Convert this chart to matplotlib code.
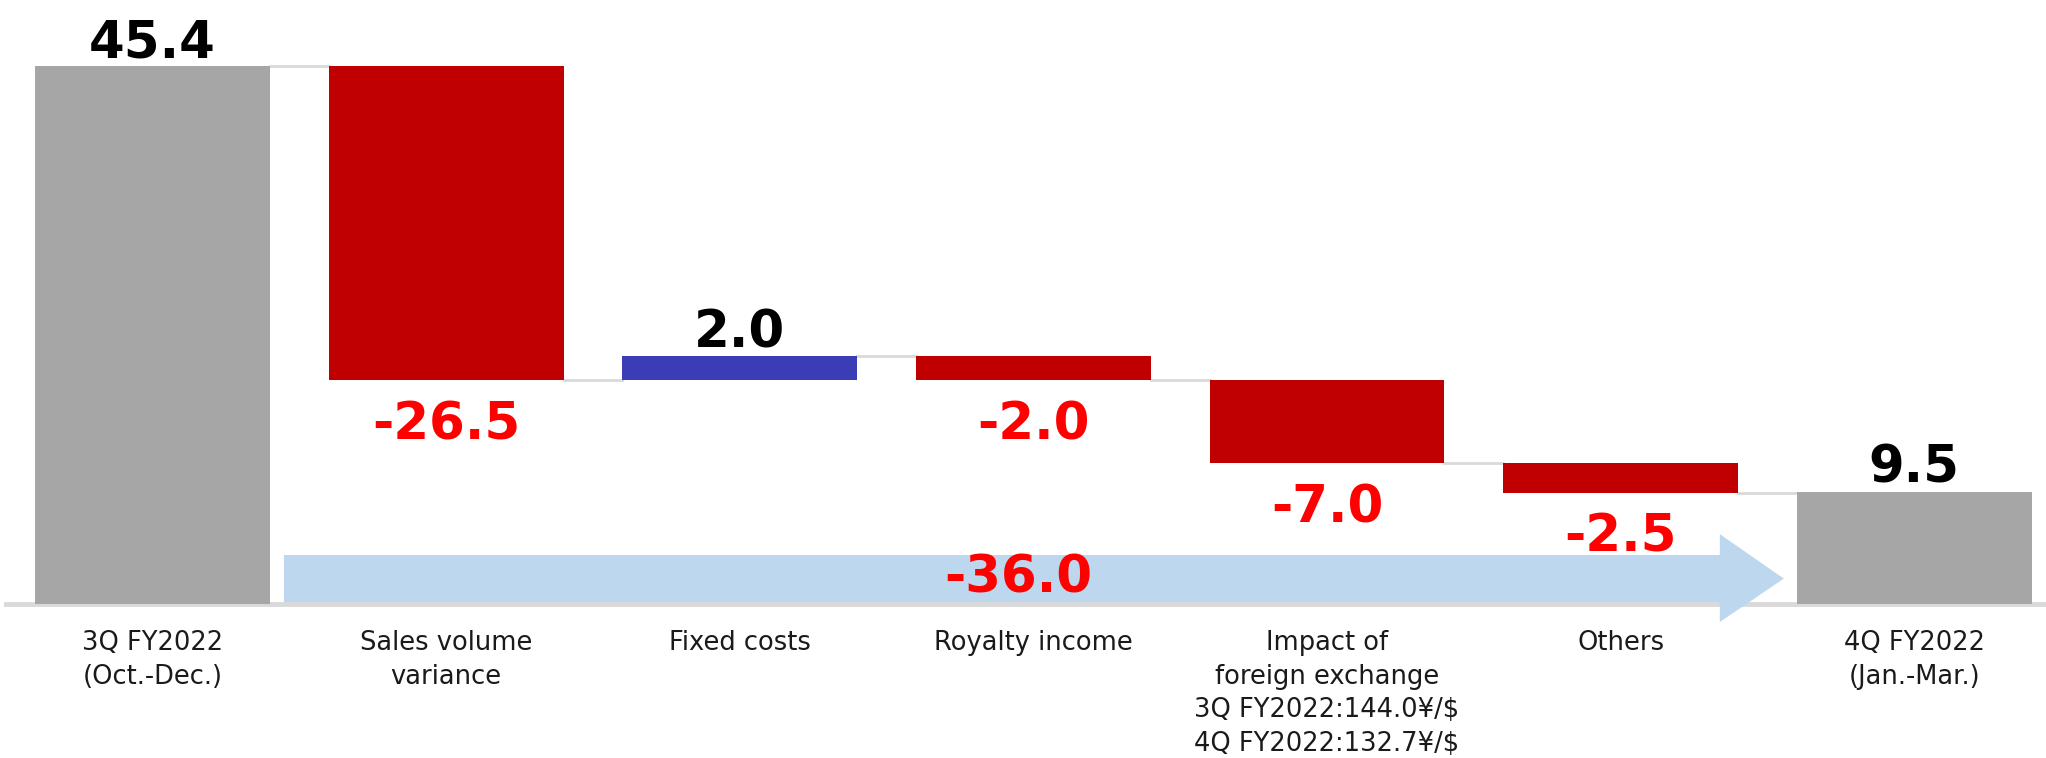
import matplotlib
matplotlib.use("Agg")
import matplotlib.pyplot as plt
from matplotlib.patches import Polygon
import numpy as np

# data
categories = [
    "3Q FY2022\n(Oct.-Dec.)",
    "Sales volume\nvariance",
    "Fixed costs",
    "Royalty income",
    "Impact of\nforeign exchange\n3Q FY2022:144.0\u00a5/$\n4Q FY2022:132.7\u00a5/$",
    "Others",
    "4Q FY2022\n(Jan.-Mar.)",
]
start_value = 45.4
deltas = [-26.5, 2.0, -2.0, -7.0, -2.5]
end_value = 9.5
total_change = -36.0

GRAY = "#a6a6a6"
RED = "#c00000"
BLUE = "#3a3db5"
LINE = "#d9d9d9"
ARROW = "#bdd7ee"

fig = plt.figure(figsize=(20.46, 7.58), dpi=100)
ax = fig.add_axes([0, 0, 1, 1])
ax.set_xlim(-0.52, 6.449)
ax.set_ylim(-13.0, 51.0)
ax.axis("off")

x = np.arange(len(categories))
width = 0.8

# waterfall geometry
levels = np.concatenate([[start_value], start_value + np.cumsum(deltas)])
bottoms, heights, colors = [0.0], [start_value], [GRAY]
for i, d in enumerate(deltas):
    lo = min(levels[i], levels[i + 1])
    bottoms.append(lo)
    heights.append(abs(d))
    colors.append(BLUE if d > 0 else RED)
bottoms.append(0.0)
heights.append(end_value)
colors.append(GRAY)

# baseline
ax.axhline(0, xmin=0.003, xmax=1, color=LINE, lw=3.5, zorder=1)

# connectors between bars
tops = [start_value] + list(levels[1:])
for i in range(len(categories) - 1):
    ax.plot([x[i] + width / 2, x[i + 1] - width / 2], [tops[i], tops[i]],
            color=LINE, lw=2, zorder=1)

# total change arrow
shaft_l, head_b, tip = 0.447, 5.338, 5.556
poly = Polygon([(shaft_l, 0.17), (head_b, 0.17), (head_b, -1.52), (tip, 2.15),
                (head_b, 5.9), (head_b, 4.14), (shaft_l, 4.14)],
               closed=True, facecolor=ARROW, edgecolor="none", zorder=2)
ax.add_patch(poly)

ax.bar(x, heights, width=width, bottom=bottoms, color=colors, zorder=3)

# value labels
big = dict(fontsize=37, fontweight="bold", ha="center", zorder=5)
ax.annotate(f"{start_value:.1f}", (x[0], start_value), xytext=(0, 9),
            textcoords="offset pixels", va="baseline", color="black", **big)
ax.annotate(f"{end_value:.1f}", (x[-1], end_value), xytext=(0, 9),
            textcoords="offset pixels", va="baseline", color="black", **big)
for i, d in enumerate(deltas):
    xi = x[i + 1]
    if d > 0:
        ax.annotate(f"{d:.1f}", (xi, bottoms[i + 1] + heights[i + 1]), xytext=(0, 9),
                    textcoords="offset pixels", va="baseline", color="black", **big)
    else:
        ax.annotate(f"{d:.1f}", (xi, bottoms[i + 1]), xytext=(0, -20),
                    textcoords="offset pixels", va="top", color="#ff0000", **big)

ax.text(2.95, 2.15, f"{total_change:.1f}", va="center", color="#ff0000", **big)

# category labels
for xi, lab in zip(x, categories):
    ax.text(xi, -2.2, lab, ha="center", va="top", fontsize=18.5,
            linespacing=1.38, color="#1a1a1a")

fig.savefig("out.png", dpi=100)
